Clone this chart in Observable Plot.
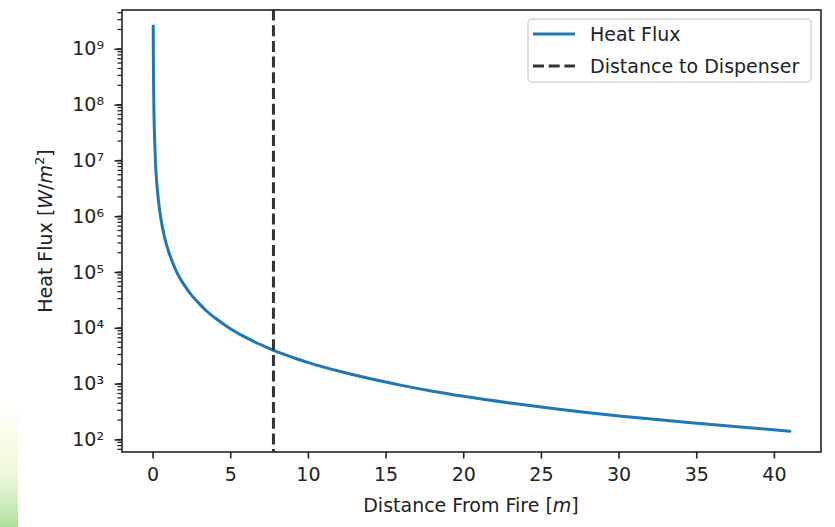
<!DOCTYPE html>
<html>
<head>
<meta charset="utf-8">
<script src="https://cdn.jsdelivr.net/npm/d3@7"></script>
<script src="https://cdn.jsdelivr.net/npm/@observablehq/plot@0.6"></script>
<style>
  html, body { margin: 0; padding: 0; background: #fff; }
  #wrap { position: relative; width: 835px; height: 527px; overflow: hidden; font-family: "DejaVu Sans", sans-serif; }
  #strip { position: absolute; left: 0; top: 405px; width: 18px; height: 122px;
           background: linear-gradient(to bottom, #ffffff 0%, #fbfde9 25%, #eef8dc 55%, #d2edc0 80%, #a9df98 100%); }
  #wrap svg { position: absolute; left: 0; top: 0; }
</style>
</head>
<body>
<div id="wrap"><div id="strip"></div></div>
<script>
// ---- data ----
const distance = [0.01, 0.02, 0.04, 0.06, 0.1, 0.15, 0.2, 0.3, 0.4, 0.5, 0.75, 1.0, 1.25, 1.5, 2.0, 2.5, 3.0, 3.5, 4.0, 5.0, 6.0, 7.0, 7.75, 9.0, 10, 12, 14, 16, 18, 20, 23, 26, 30, 35, 41];
const heatFlux = [2.3e9, 5.5e8, 1.4e8, 6.0e7, 2.2e7, 9.0e6, 5.0e6, 2.3e6, 1.3e6, 8.3e5, 3.7e5, 2.1e5, 1.35e5, 9.3e4, 5.3e4, 3.4e4, 2.4e4, 1.75e4, 1.35e4, 8.6e3, 6.0e3, 4.4e3, 3.55e3, 2.65e3, 2.15e3, 1.5e3, 1.1e3, 840, 660, 535, 405, 316, 238, 175, 127];
const dispenserDistance = [7.75];
const xTicks = [0, 5, 10, 15, 20, 25, 30, 35, 40];
const yTicks = [1e2, 1e3, 1e4, 1e5, 1e6, 1e7, 1e8, 1e9];
const yTickLabels = ["10²", "10³", "10⁴", "10⁵", "10⁶", "10⁷", "10⁸", "10⁹"];
const minorMultipliers = [2, 3, 4, 5, 6, 7, 8, 9];
const legendLabels = ["Heat Flux", "Distance to Dispenser"];
const seriesColor = "#1f77b4";
const dispenserColor = "#333333";

const rows = distance.map((d, i) => ({distance: d, flux: heatFlux[i]}));
const yDomain = [Math.pow(10, 1.73), Math.pow(10, 9.65)];
const yMinor = [];
for (let k = 1; k <= 9; k++) for (const m of minorMultipliers) {
  const v = m * Math.pow(10, k);
  if (v >= yDomain[0] && v <= yDomain[1]) yMinor.push(v);
}

const chart = Plot.plot({
  width: 835,
  height: 527,
  marginLeft: 121.5,
  marginRight: 14.5,
  marginTop: 9.5,
  marginBottom: 75.5,
  style: {fontFamily: "'DejaVu Sans', sans-serif", fontSize: "19px", color: "#222", background: "transparent", overflow: "visible"},
  x: {domain: [-2.0, 43.0]},
  y: {type: "log", domain: yDomain},
  marks: [
    Plot.axisY(yMinor, {tickSize: 4, tickFormat: () => "", label: null, strokeWidth: 1.3}),
    Plot.axisY(yTicks, {tickSize: 7, tickPadding: 11, dy: 3, strokeWidth: 1.6, label: null,
      tickFormat: d => yTickLabels[yTicks.indexOf(d)]}),
    Plot.axisX(xTicks, {tickSize: 7, tickPadding: 8, strokeWidth: 1.6, label: null}),
    Plot.line(rows, {x: "distance", y: "flux", stroke: seriesColor, strokeWidth: 3, curve: "monotone-x"}),
    Plot.ruleX(dispenserDistance, {stroke: dispenserColor, strokeWidth: 3, strokeDasharray: "11,4.7"}),
    Plot.frame({stroke: "#222", strokeWidth: 1.6})
  ]
});

document.getElementById("wrap").appendChild(chart);

// axis titles and legend (mathtext-like styling)
const svg = d3.select(chart);
const font = "'DejaVu Sans', sans-serif";

const xl = svg.append("text").attr("x", 471).attr("y", 512).attr("text-anchor", "middle")
  .attr("font-family", font).attr("font-size", 19).attr("fill", "#222");
xl.append("tspan").text("Distance From Fire [");
xl.append("tspan").attr("font-style", "italic").text("m");
xl.append("tspan").text("]");

const yl = svg.append("text").attr("transform", "translate(52,231) rotate(-90)").attr("text-anchor", "middle")
  .attr("font-family", font).attr("font-size", 19).attr("fill", "#222");
yl.append("tspan").text("Heat Flux [");
yl.append("tspan").attr("font-style", "italic").text("W");
yl.append("tspan").text("/");
yl.append("tspan").attr("font-style", "italic").text("m");
yl.append("tspan").attr("font-size", 13).attr("dy", -8).text("2");
yl.append("tspan").attr("dy", 8).text("]");

const lg = svg.append("g");
lg.append("rect").attr("x", 528).attr("y", 19).attr("width", 283).attr("height", 63).attr("rx", 4)
  .attr("fill", "#fff").attr("fill-opacity", 0.8).attr("stroke", "#d6d6d6").attr("stroke-width", 1.5);
const legendY = [34, 66];
lg.append("line").attr("x1", 533).attr("x2", 575).attr("y1", legendY[0]).attr("y2", legendY[0])
  .attr("stroke", seriesColor).attr("stroke-width", 3);
lg.append("line").attr("x1", 533).attr("x2", 575).attr("y1", legendY[1]).attr("y2", legendY[1])
  .attr("stroke", dispenserColor).attr("stroke-width", 3).attr("stroke-dasharray", "11,4.7");
legendLabels.forEach((t, i) => {
  lg.append("text").attr("x", 590).attr("y", legendY[i] + 7).attr("text-anchor", "start")
    .attr("font-family", font).attr("font-size", 19).attr("fill", "#222").text(t);
});
</script>
</body>
</html>
